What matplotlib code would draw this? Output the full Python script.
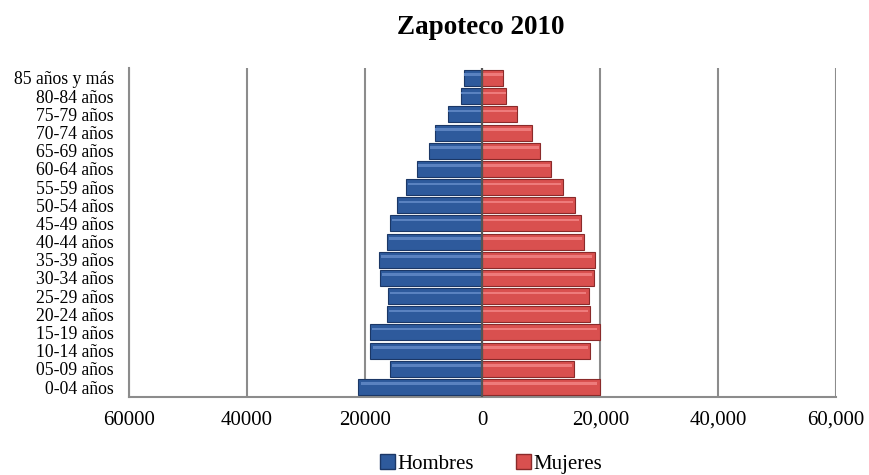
import matplotlib
matplotlib.use("Agg")
import matplotlib.pyplot as plt
from matplotlib.patches import Patch

categories = ["0-04 años", "05-09 años", "10-14 años", "15-19 años", "20-24 años",
              "25-29 años", "30-34 años", "35-39 años", "40-44 años", "45-49 años",
              "50-54 años", "55-59 años", "60-64 años", "65-69 años", "70-74 años",
              "75-79 años", "80-84 años", "85 años y más"]
hombres = [21050, 15720, 19070, 19120, 16130, 15960, 17370, 17540, 16230, 15670,
           14530, 12900, 11140, 9050, 8080, 5820, 3670, 3110]
mujeres = [19950, 15520, 18230, 19930, 18230, 18000, 18950, 19080, 17270, 16700,
           15690, 13650, 11610, 9680, 8320, 5840, 3970, 3400]
xticks = [-60000, -40000, -20000, 0, 20000, 40000, 60000]
xticklabels = ["60000", "40000", "20000", "0", "20,000", "40,000", "60,000"]

plt.rcParams['font.family'] = ['Liberation Serif', 'DejaVu Serif']

blue = "#2E5A9C"
blue_edge = "#1B3766"
red = "#D9504F"
red_edge = "#8A2A2A"

fig = plt.figure(figsize=(8.7, 4.75), dpi=100)
ax = fig.add_axes([129/870, 1-397/475, (836-129)/870, (397-68)/475])

y = list(range(len(categories)))
h = 0.88
ax.barh(y, [-v for v in hombres], height=h, color=blue, edgecolor=blue_edge, linewidth=0.8, zorder=3)
ax.barh(y, mujeres, height=h, color=red, edgecolor=red_edge, linewidth=0.8, zorder=3)
# highlight stripes for bevel look
ax.barh([v + 0.18 for v in y], [-v * 0.97 for v in hombres], height=0.14, left=-150,
        color="#5A82C0", linewidth=0, zorder=4)
ax.barh([v + 0.18 for v in y], [v * 0.97 for v in mujeres], height=0.14, left=150,
        color="#EE7B7B", linewidth=0, zorder=4)

ax.set_xlim(-60000, 60000)
ax.set_ylim(-0.55, len(categories) - 0.45)
ax.set_xticks(xticks)
ax.set_xticklabels(xticklabels, fontsize=15)
ax.set_yticks(y)
ax.set_yticklabels(categories, fontsize=12.7)
ax.tick_params(axis='both', length=0)
ax.tick_params(axis='x', pad=10)
ax.tick_params(axis='y', pad=11)

for xv in xticks:
    if xv == 0:
        ax.axvline(0, color="#555555", linewidth=1.6, zorder=5)
    else:
        ax.axvline(xv, color="#8C8C8C", linewidth=1.5, zorder=1)

for s in ["top", "right"]:
    ax.spines[s].set_visible(False)
for s in ["left", "bottom"]:
    ax.spines[s].set_color("#8C8C8C")
    ax.spines[s].set_linewidth(1.5)

fig.text(481/870, 1-27/475, "Zapoteco 2010", ha="center", va="center",
         fontsize=19.5, fontweight="bold")

handles = [Patch(facecolor=blue, edgecolor=blue_edge, label="Hombres"),
           Patch(facecolor=red, edgecolor=red_edge, label="Mujeres")]
fig.legend(handles=handles, loc="center", bbox_to_anchor=(491/870, 1-464/475),
           ncol=2, frameon=False, fontsize=15, handlelength=0.75, handleheight=0.75,
           handletextpad=0.1, columnspacing=2.0, borderaxespad=0)

fig.savefig("out.png", dpi=100)
